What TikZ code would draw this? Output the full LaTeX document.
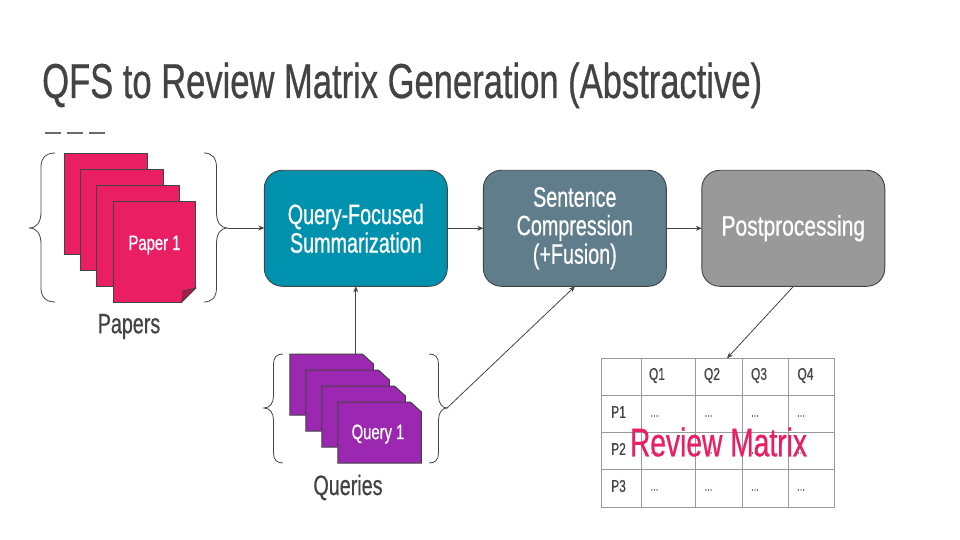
\documentclass[tikz,border=0pt]{standalone}
\usepackage{fontspec}
\setmainfont[FakeStretch=0.705,FakeBold=0.6]{Liberation Sans}
\newfontfamily\widefont[FakeStretch=0.75,FakeBold=0.6]{Liberation Sans}
\usetikzlibrary{arrows.meta}
\definecolor{ink}{HTML}{434343}
\definecolor{pinkc}{HTML}{E91E63}
\definecolor{pinkd}{HTML}{B0174F}
\definecolor{purplec}{HTML}{9C27B0}
\definecolor{tealc}{HTML}{0091AE}
\definecolor{slatec}{HTML}{607D8B}
\definecolor{greyc}{HTML}{999999}
\tikzset{
  x=1pt,y=-1pt,
  proc/.style={draw=ink,line width=0.9pt,rounded corners=18pt,minimum width=183pt,minimum height=116pt,outer sep=0pt,text=white,align=center,font=\fontsize{28}{28.5}\selectfont,inner sep=0pt},
  paper/.style={draw=ink,fill=pinkc,line width=1pt,minimum width=82.5pt,minimum height=101pt,outer sep=0pt,inner sep=0pt},
  qbase/.style={minimum width=83.5pt,minimum height=61pt,outer sep=0pt,inner sep=0pt},
  qsheet/.style={draw=ink,fill=purplec,line width=1pt},
  brace/.style={draw=ink,line width=0.8pt},
  conn/.style={draw=ink,line width=0.8pt,-{Stealth[length=6pt,width=5pt]}},
  grid/.style={draw=greyc,line width=0.8pt},
  cell/.style={text=ink,font=\fontsize{17}{18}\selectfont,inner sep=0pt},
  label/.style={text=ink,font=\fontsize{28}{28}\selectfont,inner sep=0pt},
  sheetlabel/.style={text=white,font=\fontsize{21}{22}\selectfont,inner sep=0pt},
}
\newcommand{\qshape}[1]{\path[qsheet] (#1.north west) -- ([xshift=-11pt]#1.north east) -- ([yshift=-10pt]#1.north east) -- (#1.south east) -- (#1.south west) -- cycle;}
\begin{document}
\begin{tikzpicture}
\useasboundingbox (0,0) rectangle (960,540);
% title
\node[anchor=base west,inner sep=0pt,text=ink,font=\fontsize{49}{50}\selectfont] (title) at (42,98) {QFS to Review Matrix Generation (Abstractive)};
\coordinate (ruleA) at (45,133);
\coordinate (ruleB) at (105,133);
\draw[draw=ink!80,line width=2pt,dash pattern=on 16pt off 6pt] (ruleA) -- (ruleB);
% papers
\node[paper] (p4) at (106.2,204) {};
\node[paper] (p3) at (122.2,220) {};
\node[paper] (p2) at (138.2,236) {};
\node[paper] (p1) at (154.5,251.8) {};
\node[sheetlabel] (p1t) at (154.5,245) {Paper 1};
\path[fill=white] ([xshift=-14pt]p1.south east) -- ([yshift=14pt]p1.south east) -- ([xshift=2pt,yshift=14pt]p1.south east) -- ([xshift=2pt,yshift=-2pt]p1.south east) -- ([xshift=-14pt,yshift=-2pt]p1.south east) -- cycle;
\path[draw=ink,fill=pinkd,line width=0.8pt] ([xshift=-14pt]p1.south east) -- ([xshift=-12.4pt,yshift=11.6pt]p1.south east) -- ([yshift=14pt]p1.south east) -- cycle;
\node[label] (papers) at (129,326.5) {Papers};
% paper braces
\coordinate (ltipP) at (29,228);
\coordinate (rtipP) at (228,228);
\path[brace] (55,153) .. controls (46,153) and (41,158) .. (41,167) -- (41,212) .. controls (41,222) and (37,228) .. (ltipP) .. controls (37,228) and (41,234) .. (41,244) -- (41,288) .. controls (41,297) and (46,302) .. (55,302);
\path[brace] (204,153) .. controls (212,153) and (216.5,158) .. (216.5,167) -- (216.5,212) .. controls (216.5,222) and (220,228) .. (rtipP) .. controls (220,228) and (216.5,234) .. (216.5,244) -- (216.5,288) .. controls (216.5,297) and (212,302) .. (204,302);
% queries
\node[qbase] (q4) at (331.7,384.5) {};
\node[qbase] (q3) at (347.7,400.5) {};
\node[qbase] (q2) at (363.7,416.5) {};
\node[qbase] (q1) at (379.7,432.5) {};
\qshape{q4}\qshape{q3}\qshape{q2}\qshape{q1}
\node[sheetlabel] (q1t) at (378,434) {Query 1};
\node[label] (queries) at (348,487.5) {Queries};
% query braces
\coordinate (ltipQ) at (264,408);
\coordinate (rtipQ) at (447,408);
\path[brace] (283,354) .. controls (277,354) and (273.5,357) .. (273.5,364) -- (273.5,396) .. controls (273.5,403) and (270,408) .. (ltipQ) .. controls (270,408) and (273.5,413) .. (273.5,420) -- (273.5,453) .. controls (273.5,460) and (277,463) .. (283,463);
\path[brace] (429,354) .. controls (435,354) and (438.5,357) .. (438.5,364) -- (438.5,396) .. controls (438.5,403) and (442,408) .. (rtipQ) .. controls (442,408) and (438.5,413) .. (438.5,420) -- (438.5,453) .. controls (438.5,460) and (435,463) .. (429,463);
% process boxes
\node[proc,fill=tealc] (qfs) at (355.8,228.3) {Query-Focused\\Summarization};
\node[proc,fill=slatec] (comp) at (574.8,228.3) {Sentence\\Compression\\(+Fusion)};
\node[proc,fill=greyc] (post) at (793.3,228.3) {\widefont Postprocessing};
% table
\node[draw=greyc,line width=0.8pt,minimum width=233.2pt,minimum height=148.7pt,inner sep=0pt,outer sep=0pt] (tbl) at (717.9,432.7) {};
\foreach \xx in {641.5,695.5,742.5,788.5} \draw[grid] (\xx,358.3) -- (\xx,507);
\foreach \yy in {395.3,432.3,469.3} \draw[grid] (601.3,\yy) -- (834.5,\yy);
\foreach \xx/\tt in {657/Q1,712/Q2,759/Q3,805.5/Q4} \node[cell] (h\tt) at (\xx,375.5) {\tt};
\foreach \yy/\tt in {412/P1,449/P2,486/P3} \node[cell] (r\tt) at (618.5,\yy) {\tt};
\foreach \xx/\nn in {654.5/a,708.5/b,755/c,801/d} \foreach \yy/\mm in {416/x,453/y,490/z} \node[cell,font=\fontsize{13}{14}\selectfont] (dots\nn\mm) at (\xx,\yy) {...};
\node[text=pinkc,font=\fontsize{40}{40}\selectfont,inner sep=0pt] (rm) at (718.5,442) {Review Matrix};
% connectors
\coordinate (tblin) at (727,358.3);
\coordinate (compin) at (575,286.3);
\coordinate (postout) at (793.5,286.3);
\coordinate (qfsin) at (qfs.south);
\draw[conn] (rtipP) -- (qfs.west |- rtipP);
\draw[conn] (qfs.east) -- (comp.west);
\draw[conn] (comp.east) -- (post.west);
\draw[conn] (q4.north -| qfsin) -- (qfsin);
\draw[conn] (rtipQ) -- (compin);
\draw[conn] (postout) -- (tblin);
\end{tikzpicture}
\end{document}
